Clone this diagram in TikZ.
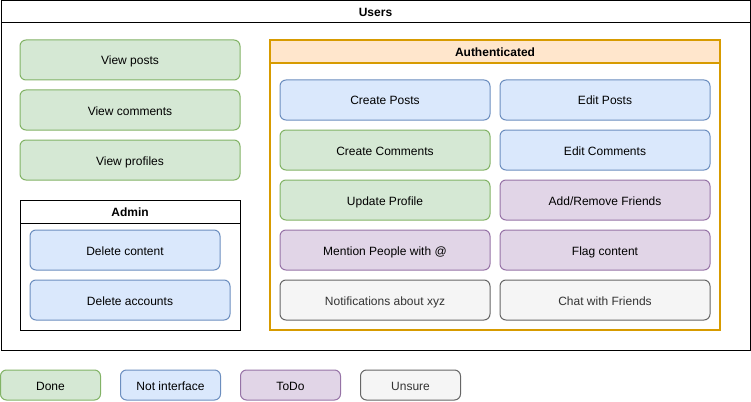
\documentclass[tikz,border=0pt]{standalone}
\usepackage{fontspec}
\setmainfont{Liberation Sans}
\usetikzlibrary{positioning}

\definecolor{doneFill}{HTML}{D5E8D4}
\definecolor{doneLine}{HTML}{82B366}
\definecolor{niFill}{HTML}{DAE8FC}
\definecolor{niLine}{HTML}{6C8EBF}
\definecolor{todoFill}{HTML}{E1D5E7}
\definecolor{todoLine}{HTML}{9673A6}
\definecolor{unsureFill}{HTML}{F5F5F5}
\definecolor{unsureLine}{HTML}{666666}
\definecolor{unsureText}{HTML}{333333}
\definecolor{authFill}{HTML}{FFE6CC}
\definecolor{authLine}{HTML}{D79B00}

\begin{document}
\begin{tikzpicture}[x = 1pt, y = -1pt,
    box/.style = {shape = rectangle, rounded corners = 6pt, line width = 1pt, minimum height = 40pt, inner sep = 0pt, outer sep = 0pt, text height = 11pt, text depth = 1pt, anchor = north west, font = \fontsize{12}{14}\selectfont},
    done/.style = {box, draw = doneLine, fill = doneFill},
    notif/.style = {box, draw = niLine, fill = niFill},
    todo/.style = {box, draw = todoLine, fill = todoFill},
    unsure/.style = {box, draw = unsureLine, fill = unsureFill, text = unsureText},
    lanehead/.style = {shape = rectangle, draw, line width = 1pt, inner sep = 0pt, outer sep = 0pt, text height = 11pt, text depth = 1pt, anchor = north west, font = \fontsize{12}{14}\selectfont\bfseries},
    lanebody/.style = {shape = rectangle, draw, line width = 1pt, inner sep = 0pt, outer sep = 0pt, anchor = north},
    ]
    \useasboundingbox (0,0) rectangle (751,401);

    % users
    \node[lanehead, minimum width = 749pt, minimum height = 22pt] (usersHead) at (1,1) {Users};
    \node[lanebody, minimum width = 749pt, minimum height = 327pt] (usersBody) [below = 0pt of usersHead] {};

    \node[done, minimum width = 220pt] (vPosts) at (20,40) {View posts};
    \node[done, minimum width = 220pt] (vComments) [below = 10pt of vPosts] {View comments};
    \node[done, minimum width = 220pt] (vProfiles) [below = 10pt of vComments] {View profiles};

    % admin
    \node[lanehead, minimum width = 220pt, minimum height = 23pt] (adminHead) at (20,200) {Admin};
    \node[lanebody, minimum width = 220pt, minimum height = 107pt] (adminBody) [below = 0pt of adminHead] {};
    \node[notif, minimum width = 190pt] (delContent) at (30,230) {Delete content};
    \node[notif, minimum width = 200pt] (delAccounts) [below = 10pt of delContent.south west, anchor = north west] {Delete accounts};

    % authenticated
    \node[lanehead, draw = authLine, fill = authFill, line width = 2pt, minimum width = 450pt, minimum height = 23pt] (authHead) at (270,40) {Authenticated};
    \node[lanebody, draw = authLine, line width = 2pt, minimum width = 450pt, minimum height = 267pt] (authBody) [below = 0pt of authHead] {};

    \node[notif, minimum width = 210pt] (cPosts) at (280,80) {Create Posts};
    \node[notif, minimum width = 210pt] (ePosts) [right = 10pt of cPosts] {Edit Posts};
    \node[done, minimum width = 210pt] (cComments) [below = 10pt of cPosts] {Create Comments};
    \node[notif, minimum width = 210pt] (eComments) [right = 10pt of cComments] {Edit Comments};
    \node[done, minimum width = 210pt] (uProfile) [below = 10pt of cComments] {Update Profile};
    \node[todo, minimum width = 210pt] (friends) [right = 10pt of uProfile] {Add/Remove Friends};
    \node[todo, minimum width = 210pt] (mention) [below = 10pt of uProfile] {Mention People with @};
    \node[todo, minimum width = 210pt] (flag) [right = 10pt of mention] {Flag content};
    \node[unsure, minimum width = 210pt] (notify) [below = 10pt of mention] {Notifications about xyz};
    \node[unsure, minimum width = 210pt] (chat) [right = 10pt of notify] {Chat with Friends};

    % legend
    \node[done, minimum width = 100pt, minimum height = 30pt] (lDone) at (0.5,370) {Done};
    \node[notif, minimum width = 100pt, minimum height = 30pt] (lNotif) [right = 20pt of lDone] {Not interface};
    \node[todo, minimum width = 100pt, minimum height = 30pt] (lTodo) [right = 20pt of lNotif] {ToDo};
    \node[unsure, minimum width = 100pt, minimum height = 30pt] (lUnsure) [right = 20pt of lTodo] {Unsure};
\end{tikzpicture}
\end{document}
